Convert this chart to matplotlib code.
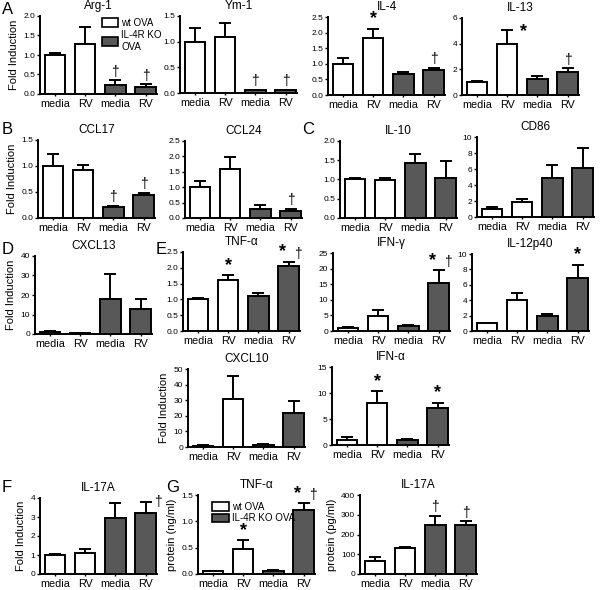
import numpy as np
import matplotlib.pyplot as plt
from matplotlib.patches import Patch

plt.rcParams['font.family'] = ['Liberation Sans', 'DejaVu Sans']

groups = ['media', 'RV', 'media', 'RV']
bar_colors = ['white', 'white', '#585858', '#585858']

# values (mean, upper error)
arg1 = [1.0, 1.27, 0.22, 0.19]
arg1_err = [0.04, 0.46, 0.13, 0.06]
ym1 = [1.0, 1.09, 0.05, 0.05]
ym1_err = [0.26, 0.28, 0.01, 0.01]
il4 = [1.0, 1.83, 0.67, 0.80]
il4_err = [0.18, 0.30, 0.08, 0.08]
il13 = [1.0, 4.0, 1.25, 1.78]
il13_err = [0.1, 1.05, 0.2, 0.32]
ccl17 = [1.0, 0.93, 0.21, 0.44]
ccl17_err = [0.24, 0.09, 0.02, 0.04]
ccl24 = [1.0, 1.6, 0.29, 0.24]
ccl24_err = [0.2, 0.37, 0.14, 0.06]
il10 = [1.0, 0.99, 1.43, 1.04]
il10_err = [0.03, 0.06, 0.22, 0.43]
cd86 = [1.0, 1.85, 4.85, 6.15]
cd86_err = [0.2, 0.4, 1.65, 2.45]
cxcl13 = [0.9, 0.4, 18.2, 12.8]
cxcl13_err = [0.4, 0.3, 12.5, 5.2]
tnfa = [1.0, 1.6, 1.12, 2.07]
tnfa_err = [0.06, 0.16, 0.07, 0.11]
ifng = [1.0, 4.7, 1.6, 15.3]
ifng_err = [0.3, 2.0, 0.3, 4.2]
il12 = [1.0, 4.05, 1.95, 6.9]
il12_err = [0.05, 0.95, 0.3, 1.7]
cxcl10 = [0.8, 31.0, 1.5, 22.0]
cxcl10_err = [0.3, 14.5, 0.7, 7.7]
ifna = [1.0, 8.1, 0.95, 7.2]
ifna_err = [0.5, 2.2, 0.15, 0.9]
il17_fold = [1.0, 1.08, 2.95, 3.22]
il17_fold_err = [0.04, 0.25, 0.8, 0.56]
tnfa_prot = [0.05, 0.48, 0.05, 1.22]
tnfa_prot_err = [0.005, 0.16, 0.02, 0.12]
il17_prot = [68, 133, 247, 247]
il17_prot_err = [17, 4, 48, 20]

FW, FH = 600, 590
fig = plt.figure(figsize=(FW / 100, FH / 100), dpi=100)


def panel(left, base, top, title, vals, errs, yticks, fmt, ylabel=None, marks=(), width=117):
    ax = fig.add_axes([left / FW, 1 - base / FH, width / FW, (base - top) / FH])
    x = np.arange(len(vals))
    ax.bar(x, vals, width=0.68, color=bar_colors, edgecolor='black', linewidth=1.4, zorder=3)
    ax.errorbar(x, vals, yerr=[np.zeros(len(vals)), errs], fmt='none', ecolor='black',
                elinewidth=1.4, capsize=4, capthick=1.4, zorder=2)
    ax.set_xlim(-0.5, 3.38)
    ax.set_ylim(0, yticks[-1])
    ax.set_yticks(yticks)
    ax.set_yticklabels([fmt.format(t) for t in yticks], fontsize=6)
    ax.set_xticks(x)
    ax.set_xticklabels(groups, fontsize=7.8)
    ax.tick_params(axis='y', length=2.5, width=1, pad=1)
    ax.tick_params(axis='x', length=1.5, width=1, pad=2)
    for s in ['top', 'right']:
        ax.spines[s].set_visible(False)
    for s in ['left', 'bottom']:
        ax.spines[s].set_linewidth(1.4)
    ax.set_title(title, fontsize=8.5, pad=5)
    if ylabel:
        ax.set_ylabel(ylabel, fontsize=8, labelpad=3)
    span = yticks[-1]
    for m in marks:
        i, sym, dx = m[:3]
        dy = m[3] if len(m) > 3 else 0.02
        y = vals[i] + errs[i] + span * dy
        ax.text(i + dx, y, sym, ha='center', va='bottom',
                fontsize=13 if sym == '*' else 10, fontweight='bold' if sym == '*' else 'normal',
                clip_on=False)
    return ax


def legend(ax, labels, **kw):
    ax.legend(handles=[Patch(facecolor=c, edgecolor='black', lw=1.2, label=l)
                       for c, l in zip(['white', '#585858'], labels)],
              frameon=False, handleheight=1.0, handletextpad=0.3, borderpad=0.2, **kw)


f05 = '{:.1f}'
fi = '{:.0f}'

ax = panel(40, 94, 16, 'Arg-1', arg1, arg1_err, [0, 0.5, 1.0, 1.5, 2.0], f05, 'Fold Induction',
           [(2, '†', 0), (3, '†', 0)])
legend(ax, ['wt OVA', 'IL-4R KO\nOVA'], loc='upper right', bbox_to_anchor=(1.1, 1.06),
       fontsize=7, handlelength=1.7, labelspacing=0.2)
panel(180, 93, 16, 'Ym-1', ym1, ym1_err, [0, 0.5, 1.0, 1.5], f05, None,
      [(2, '†', 0), (3, '†', 0)])
panel(328, 95, 17, 'IL-4', il4, il4_err, [0, 0.5, 1.0, 1.5, 2.0, 2.5], f05, None,
      [(1, '*', 0), (3, '†', 0)])
panel(462, 95, 18, 'IL-13', il13, il13_err, [0, 2, 4, 6], fi, None,
      [(1, '*', 0.55, -0.13), (3, '†', 0)])

panel(38, 218, 140, 'CCL17', ccl17, ccl17_err, [0, 0.5, 1.0, 1.5], f05, 'Fold Induction',
      [(2, '†', 0), (3, '†', 0)])
panel(185, 218, 141, 'CCL24', ccl24, ccl24_err, [0, 0.5, 1.0, 1.5, 2.0, 2.5], f05, None,
      [(3, '†', 0)])
panel(340, 218, 141, 'IL-10', il10, il10_err, [0, 0.5, 1.0, 1.5, 2.0], f05)
panel(477, 217, 137, 'CD86', cd86, cd86_err, [0, 2, 4, 6, 8, 10], fi)

panel(35, 334, 256, 'CXCL13', cxcl13, cxcl13_err, [0, 10, 20, 30, 40], fi, 'Fold Induction')
panel(183, 331, 252, 'TNF-α', tnfa, tnfa_err, [0, 0.5, 1.0, 1.5, 2.0, 2.5], f05, None,
      [(1, '*', 0), (3, '*', -0.2), (3, '†', 0.3)])
panel(333, 331, 253, 'IFN-γ', ifng, ifng_err, [0, 5, 10, 15, 20, 25], fi, None,
      [(3, '*', -0.2), (3, '†', 0.3)])
panel(472, 331, 254, 'IL-12p40', il12, il12_err, [0, 2, 4, 6, 8, 10], fi, None,
      [(3, '*', 0)])

panel(188, 447, 369, 'CXCL10', cxcl10, cxcl10_err, [0, 10, 20, 30, 40, 50], fi, 'Fold Induction')
panel(332, 445, 367, 'IFN-α', ifna, ifna_err, [0, 5, 10, 15], fi, None,
      [(1, '*', 0), (3, '*', 0)])

panel(40, 574, 498, 'IL-17A', il17_fold, il17_fold_err, [0, 1, 2, 3, 4], fi, 'Fold Induction',
      [(3, '†', 0.42, -0.09)])
ax = panel(198, 574, 495, 'TNF-α', tnfa_prot, tnfa_prot_err, [0, 0.5, 1.0, 1.5], f05,
           'protein (ng/ml)', [(1, '*', 0), (3, '*', -0.2), (3, '†', 0.3)])
legend(ax, ['wt OVA', 'IL-4R KO OVA'], loc='upper left', bbox_to_anchor=(0.06, 1.0),
       fontsize=7, handlelength=1.8, labelspacing=0.15)
panel(360, 574, 495, 'IL-17A', il17_prot, il17_prot_err, [0, 100, 200, 300, 400], fi,
      'protein (pg/ml)', [(2, '†', 0), (3, '†', 0)])

letters = [('A', 2, 2), ('B', 2, 122), ('C', 302, 122), ('D', 2, 242), ('E', 156, 242),
           ('F', 2, 480), ('G', 166, 480)]
for lab, px, py in letters:
    fig.text(px / FW, 1 - py / FH, lab, fontsize=12, ha='left', va='top')

fig.savefig('out.png', dpi=100)
